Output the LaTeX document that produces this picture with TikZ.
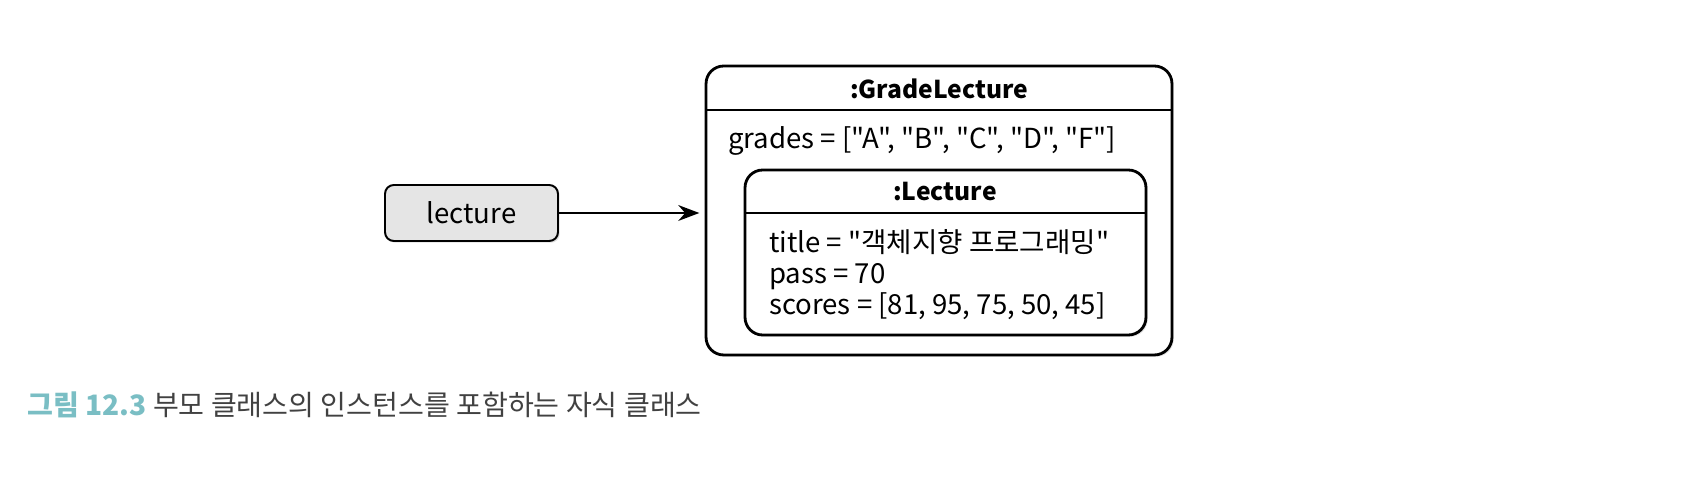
\documentclass[tikz,border=0pt]{standalone}
\usepackage{fontspec}
\setmainfont{Noto Sans CJK KR}[Ligatures=TeXOff]
\usepackage{tikz}
\usetikzlibrary{arrows.meta, shadows}

\definecolor{boxgray}{RGB}{229,229,229}
\definecolor{capteal}{RGB}{122,190,196}
\definecolor{capgray}{RGB}{65,65,65}

\tikzset{
    objbox/.style={draw, line width=1.6pt, rounded corners=10pt, fill=white,
        drop shadow={opacity=0.25, shadow xshift=1pt, shadow yshift=-1pt}},
    varbox/.style={draw, line width=1.1pt, rounded corners=5pt, fill=boxgray,
        minimum width=3.46cm, minimum height=1.12cm,
        drop shadow={opacity=0.25, shadow xshift=1pt, shadow yshift=-1pt}},
    title/.style={font=\fontsize{14}{17}\selectfont\bfseries},
    attr/.style={font=\fontsize{15.7}{17.6}\selectfont, align=left, anchor=west}
}

\begin{document}
\begin{tikzpicture}[x=0.02cm, y=-0.02cm]
    \useasboundingbox (0,0) rectangle (1708,482);

    % Outer object
    \node[objbox, minimum width=9.32cm, minimum height=5.78cm] (grade) at (939,210.5) {};
    \draw[line width=1.3pt] (706,110) -- (1172,110);
    \node[title] (gradetitle) at (939,89) {:GradeLecture};
    \node[attr] (grades) at (722,141) {grades = ["A", "B", "C", "D", "F"]};

    % Inner object
    \node[objbox, minimum width=8.02cm, minimum height=3.3cm] (lect) at (945.5,252.5) {};
    \draw[line width=1.3pt] (745,213) -- (1146,213);
    \node[title] (lecttitle) at (945,192) {:Lecture};
    \node[attr] (fields) at (763,275) {title = "객체지향 프로그래밍"\\pass = 70\\scores = [81, 95, 75, 50, 45]};

    % Variable
    \node[varbox, font=\fontsize{15.7}{18}\selectfont] (var) at (471.5,213) {lecture};
    \draw[-{Stealth[length=12pt, width=9pt]}, line width=1.3pt, shorten >=3pt] (var.east) -- (var.east -| grade.west);

    % Caption
    \node[anchor=west, inner sep=0pt, font=\fontsize{16}{18}\selectfont] (cap) at (27,405)
        {\textcolor{capteal}{\bfseries 그림 12.3}\ \textcolor{capgray}{부모 클래스의 인스턴스를 포함하는 자식 클래스}};
\end{tikzpicture}
\end{document}
